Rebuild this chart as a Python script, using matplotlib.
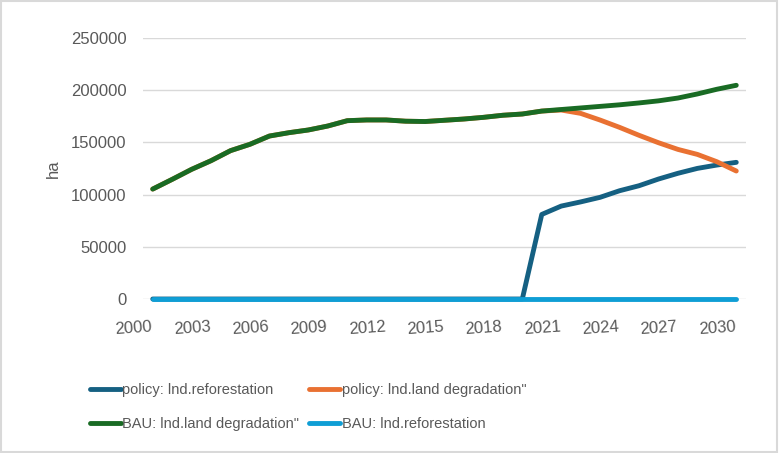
import matplotlib
matplotlib.use("Agg")
import matplotlib.pyplot as plt
from matplotlib.patches import Rectangle

years = list(range(2000, 2031))

bau_degradation = [105300, 114600, 124200, 132500, 142100, 148200, 156100, 159300, 161900, 165700,
                   170800, 171500, 171500, 170300, 170000, 171200, 172400, 174000, 176000, 177200,
                   180000, 181500, 183000, 184500, 186000, 187800, 189800, 192500, 196400, 200900,
                   204700]
policy_degradation = bau_degradation[:21] + [181000, 177800, 171400, 164400, 156800, 149700,
                                             143300, 138500, 131500, 122600]
policy_reforestation = [0] * 20 + [81000, 89000, 93000, 97400, 103700, 108500, 114900,
                                   120400, 125100, 128300, 130900]
bau_reforestation = [0] * 31

labels = ['policy: lnd.reforestation', 'policy: lnd.land degradation"',
          'BAU: lnd.land degradation"', 'BAU: lnd.reforestation']
colors = ['#156082', '#E97132', '#196B24', '#0F9ED5']
tick_years = list(range(2000, 2031, 3))

plt.rcParams['font.family'] = ['Liberation Sans', 'DejaVu Sans']

fig = plt.figure(figsize=(7.79, 4.53), dpi=100)
ax = fig.add_axes([143 / 779, 1 - 299 / 453, (746 - 143) / 779, (299 - 38) / 453])

series = [policy_reforestation, policy_degradation, bau_degradation, bau_reforestation]
lines = []
for vals, lab, col in zip(series, labels, colors):
    ln, = ax.plot(years, vals, color=col, lw=3.5, label=lab, solid_capstyle='round',
                  solid_joinstyle='round', clip_on=False)
    lines.append(ln)

ax.set_xlim(1999.5, 2030.5)
ax.set_ylim(0, 250000)
ax.set_yticks(range(0, 250001, 50000))
ax.set_xticks(tick_years)
ax.set_xticklabels([str(y) for y in tick_years], rotation=4, ha='right')
ax.grid(axis='y', color='#D9D9D9', lw=1)
ax.set_axisbelow(True)
for s in ax.spines.values():
    s.set_visible(False)
ax.tick_params(length=0, labelsize=12, labelcolor='#595959')
ax.tick_params(axis='y', pad=12)
ax.tick_params(axis='x', pad=15)
ax.set_ylabel('ha', fontsize=12, color='#595959', labelpad=7)

# legend filled row by row, like the original
order = [0, 2, 1, 3]
fig.legend([lines[i] for i in order], [labels[i] for i in order],
           loc='center left', bbox_to_anchor=(77 / 779, 1 - 407 / 453), ncol=2,
           frameon=False, handlelength=2.1, handletextpad=0.1, columnspacing=0.7,
           labelspacing=1.4, prop={'size': 10.5}, labelcolor='#595959')

fig.patches.append(Rectangle((0.001, 0.002), 0.997, 0.996, transform=fig.transFigure,
                             fill=False, edgecolor='#D9D9D9', lw=1.5))

fig.savefig('out.png', dpi=100)
